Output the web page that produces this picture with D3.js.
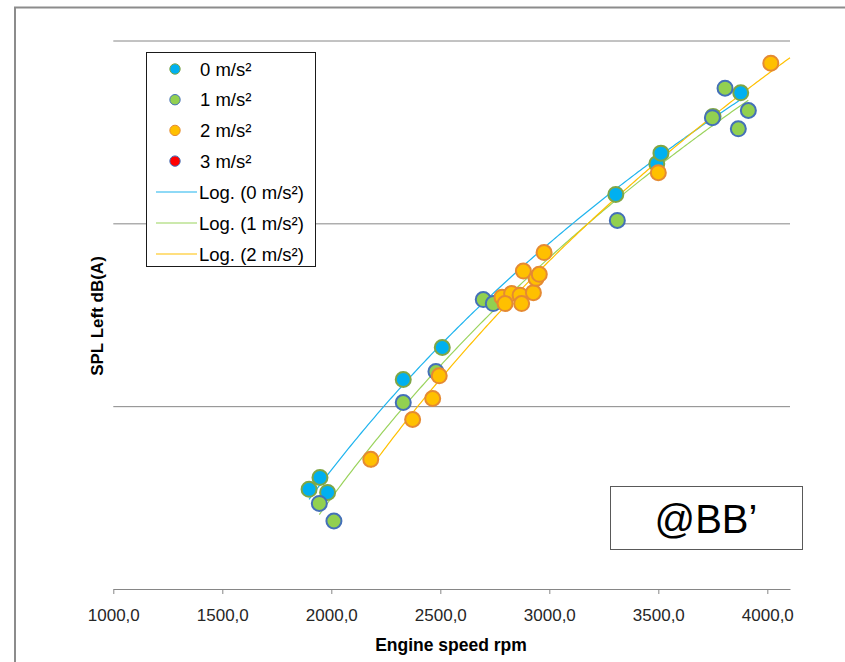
<!DOCTYPE html>
<html>
<head>
<meta charset="utf-8">
<title>SPL vs engine speed</title>
<script src="https://cdn.jsdelivr.net/npm/d3@7"></script>
<style>
  html, body { margin:0; padding:0; background:#fff; overflow:hidden }
  text { font-family: "Liberation Sans", Arial, sans-serif; }
</style>
</head>
<body>
<svg width="845" height="662"></svg>
<script>
  // [engine speed rpm, SPL dB(A)] per acceleration level
  const s0 = [[1898, 65.45], [1948, 66.1], [1983, 65.28], [2330, 71.46], [2509, 73.21],
    [3305, 81.58], [3493, 83.26], [3512, 83.84], [3751, 85.85], [3878, 87.14]];
  const s1 = [[1945, 64.68], [2012, 63.72], [2330, 70.2], [2480, 71.89], [2697, 75.83],
    [2743, 75.61], [3312, 80.16], [3748, 85.78], [3806, 87.39], [3867, 85.17], [3913, 86.17]];
  const s2 = [[2181, 67.09], [2373, 69.27], [2465, 70.42], [2495, 71.66], [2783, 75.96],
    [2827, 76.16], [2866, 76.07], [2797, 75.61], [2873, 75.61], [2927, 76.21], [2939, 76.99],
    [2954, 77.21], [2881, 77.39], [2976, 78.4], [3500, 82.77], [4016, 88.76]];
  const s3 = [];

  const seriesNames = ["0 m/s²", "1 m/s²", "2 m/s²", "3 m/s²"];
  const fills = ["#00b0f0", "#92d050", "#ffc000", "#ff0000"];
  const strokes = ["#7fa645", "#4470b8", "#e58a32", "#4470b8"];
  const trendNames = ["Log. (0 m/s²)", "Log. (1 m/s²)", "Log. (2 m/s²)"];
  const trendColors = ["#1fb4ee", "#9ad35c", "#ffc000"];

  const xTicks = [1000, 1500, 2000, 2500, 3000, 3500, 4000];
  const yTicks = [60, 70, 80, 90];

  const svg = d3.select("svg");
  const x = d3.scaleLinear().domain([1000, 4104]).range([113.3, 790]);
  const y = d3.scaleLinear().domain([60, 90]).range([589, 40.5]);

  const fmt = d3.formatLocale({decimal: ",", thousands: ".", grouping: [3], currency: ["", ""]}).format(".1f");

  // outer chart frame (only top and left edges visible)
  svg.append("path")
    .attr("d", "M15,662V7.5H845")
    .attr("fill", "none")
    .attr("stroke", "#8c8c8c")
    .attr("stroke-width", 2);

  // horizontal gridlines
  const grid = svg.append("g")
    .attr("transform", "translate(113.3,0)")
    .call(d3.axisLeft(y).tickValues(yTicks.slice(1)).tickSize(-(790 - 113.3)).tickFormat(""));
  grid.select(".domain").remove();
  grid.selectAll("line").attr("stroke", "#868686");

  // x axis
  const xAxis = svg.append("g")
    .attr("transform", "translate(0,589)")
    .call(d3.axisBottom(x).tickValues(xTicks).tickSize(5).tickSizeOuter(0).tickFormat(fmt));
  xAxis.select(".domain").attr("stroke", "#868686");
  xAxis.selectAll("line").attr("stroke", "#868686");
  xAxis.selectAll("text")
    .attr("y", 31.5)
    .attr("dy", 0)
    .attr("fill", "#262626")
    .style("font-size", "17px");

  svg.append("text")
    .attr("x", 451).attr("y", 651)
    .attr("text-anchor", "middle")
    .style("font-size", "17.5px").style("font-weight", "bold")
    .text("Engine speed rpm");

  svg.append("text")
    .attr("transform", "translate(103,316) rotate(-90)")
    .attr("text-anchor", "middle")
    .style("font-size", "17px").style("font-weight", "bold")
    .text("SPL Left dB(A)");

  // logarithmic trendlines (least squares on ln x)
  function logFit(pts) {
    const lx = pts.map(d => Math.log(d[0]));
    const mx = d3.mean(lx), my = d3.mean(pts, d => d[1]);
    let num = 0, den = 0;
    pts.forEach((d, i) => { num += (lx[i] - mx) * (d[1] - my); den += (lx[i] - mx) ** 2; });
    const a = num / den;
    return {a: a, b: my - a * mx};
  }
  const trendSeries = [s0, s1, s2];
  const trendEnd = [null, null, 4104];
  const line = d3.line().x(d => x(d[0])).y(d => y(d[1]));
  trendSeries.forEach((pts, i) => {
    const f = logFit(pts);
    const lo = d3.min(pts, d => d[0]);
    const hi = trendEnd[i] || d3.max(pts, d => d[0]);
    const samples = d3.range(lo, hi, 10).concat([hi]).map(v => [v, f.a * Math.log(v) + f.b]);
    svg.append("path")
      .datum(samples)
      .attr("d", line)
      .attr("fill", "none")
      .attr("stroke", trendColors[i])
      .attr("stroke-width", 1.2);
  });

  // markers
  [s0, s1, s2, s3].forEach((pts, i) => {
    svg.append("g").selectAll("circle")
      .data(pts)
      .enter()
      .append("circle")
      .attr("cx", d => x(d[0]))
      .attr("cy", d => y(d[1]))
      .attr("r", 7.5)
      .attr("fill", fills[i])
      .attr("stroke", strokes[i])
      .attr("stroke-width", 2);
  });

  // legend
  const legend = svg.append("g");
  legend.append("rect")
    .attr("x", 146.5).attr("y", 52.5)
    .attr("width", 169).attr("height", 214)
    .attr("fill", "#fff")
    .attr("stroke", "#1a1a1a");
  seriesNames.forEach((name, i) => {
    const ly = 69 + i * 30.7;
    legend.append("circle")
      .attr("cx", 175).attr("cy", ly).attr("r", 5.2)
      .attr("fill", fills[i]).attr("stroke", strokes[i]).attr("stroke-width", 1);
    legend.append("text")
      .attr("x", 200).attr("y", ly + 6.5)
      .attr("fill", "#000")
      .style("font-size", "18.5px")
      .text(name);
  });
  trendNames.forEach((name, i) => {
    const ly = 192 + i * 31;
    legend.append("line")
      .attr("x1", 156).attr("x2", 197).attr("y1", ly).attr("y2", ly)
      .attr("stroke", trendColors[i]).attr("stroke-width", 1.2);
    legend.append("text")
      .attr("x", 199).attr("y", ly + 6.5)
      .attr("fill", "#000")
      .style("font-size", "18.5px")
      .text(name);
  });

  // annotation box
  svg.append("rect")
    .attr("x", 610.5).attr("y", 486.5)
    .attr("width", 192).attr("height", 63)
    .attr("fill", "#fff")
    .attr("stroke", "#595959");
  svg.append("text")
    .attr("x", 706).attr("y", 533)
    .attr("text-anchor", "middle")
    .attr("fill", "#000")
    .style("font-size", "40px")
    .text("@BB’");
</script>
</body>
</html>
